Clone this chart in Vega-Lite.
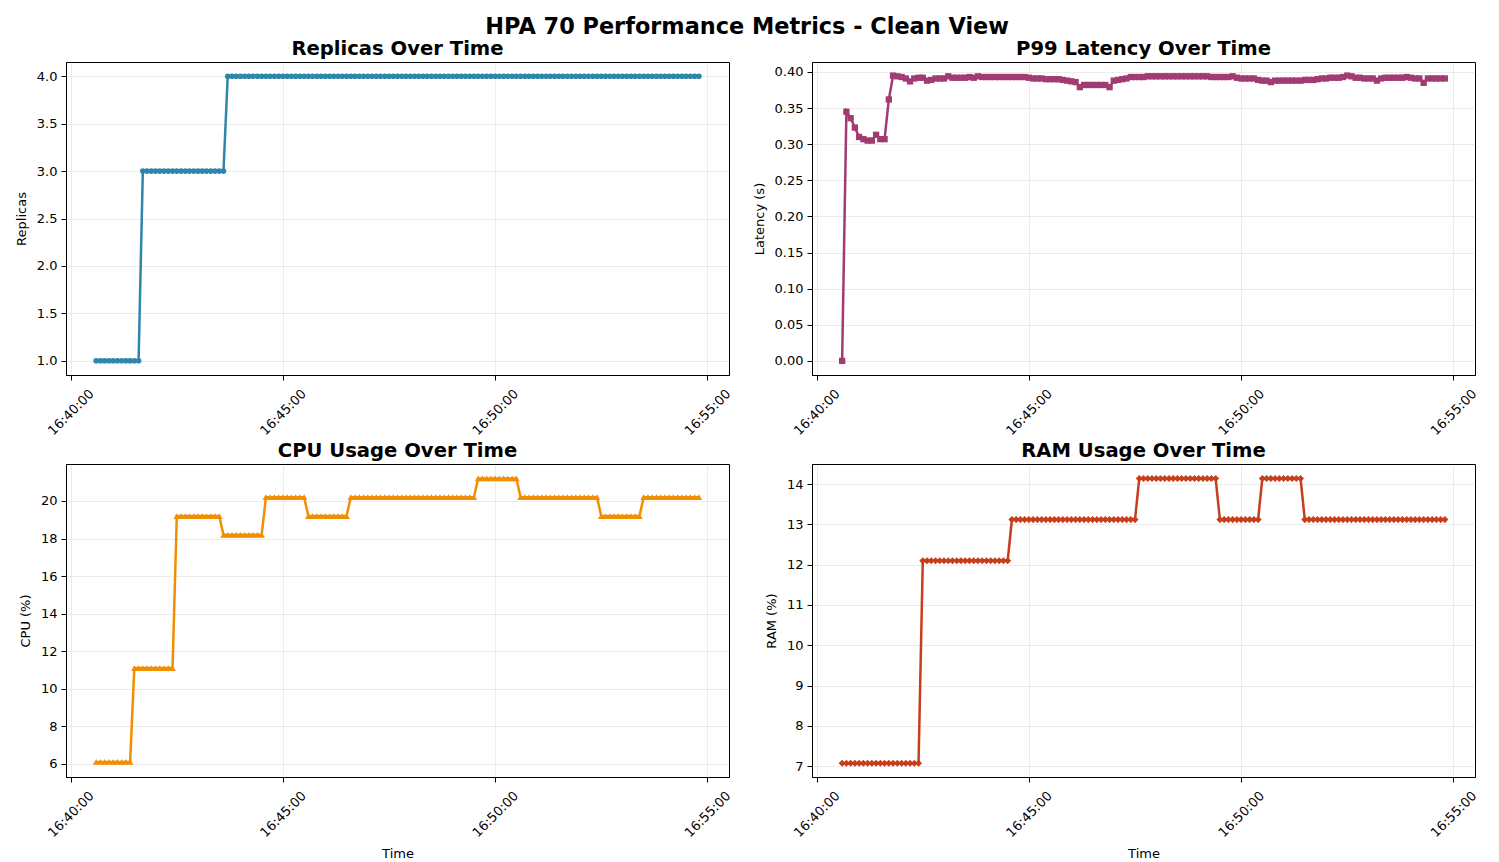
{
"$schema": "https://vega.github.io/schema/vega-lite/v6.json",
"padding": {"left": 14, "top": 15, "right": 20, "bottom": 2},
"title": {"text": "HPA 70 Performance Metrics - Clean View", "fontSize": 22.4, "fontWeight": "bold", "font": "DejaVu Sans", "anchor": "middle", "offset": 1, "color": "black"},
"datasets": {"d": [
{"t":"2024-01-01T16:40:36","r":1,"l":0,"c":6.1,"m":7.07},
{"t":"2024-01-01T16:40:42","r":1,"l":0.345,"c":6.1,"m":7.07},
{"t":"2024-01-01T16:40:48","r":1,"l":0.336,"c":6.1,"m":7.07},
{"t":"2024-01-01T16:40:54","r":1,"l":0.323,"c":6.1,"m":7.07},
{"t":"2024-01-01T16:41:00","r":1,"l":0.310,"c":6.1,"m":7.07},
{"t":"2024-01-01T16:41:06","r":1,"l":0.307,"c":6.1,"m":7.07},
{"t":"2024-01-01T16:41:12","r":1,"l":0.305,"c":6.1,"m":7.07},
{"t":"2024-01-01T16:41:18","r":1,"l":0.305,"c":6.1,"m":7.07},
{"t":"2024-01-01T16:41:24","r":1,"l":0.313,"c":6.1,"m":7.07},
{"t":"2024-01-01T16:41:30","r":1,"l":0.307,"c":11.1,"m":7.07},
{"t":"2024-01-01T16:41:36","r":1,"l":0.307,"c":11.1,"m":7.07},
{"t":"2024-01-01T16:41:42","r":3,"l":0.362,"c":11.1,"m":7.07},
{"t":"2024-01-01T16:41:48","r":3,"l":0.395,"c":11.1,"m":7.07},
{"t":"2024-01-01T16:41:54","r":3,"l":0.394,"c":11.1,"m":7.07},
{"t":"2024-01-01T16:42:00","r":3,"l":0.393,"c":11.1,"m":7.07},
{"t":"2024-01-01T16:42:06","r":3,"l":0.391,"c":11.1,"m":7.07},
{"t":"2024-01-01T16:42:12","r":3,"l":0.387,"c":11.1,"m":7.07},
{"t":"2024-01-01T16:42:18","r":3,"l":0.391,"c":11.1,"m":7.07},
{"t":"2024-01-01T16:42:24","r":3,"l":0.392,"c":11.1,"m":7.07},
{"t":"2024-01-01T16:42:30","r":3,"l":0.392,"c":19.2,"m":12.1},
{"t":"2024-01-01T16:42:36","r":3,"l":0.388,"c":19.2,"m":12.1},
{"t":"2024-01-01T16:42:42","r":3,"l":0.389,"c":19.2,"m":12.1},
{"t":"2024-01-01T16:42:48","r":3,"l":0.391,"c":19.2,"m":12.1},
{"t":"2024-01-01T16:42:54","r":3,"l":0.391,"c":19.2,"m":12.1},
{"t":"2024-01-01T16:43:00","r":3,"l":0.391,"c":19.2,"m":12.1},
{"t":"2024-01-01T16:43:06","r":3,"l":0.394,"c":19.2,"m":12.1},
{"t":"2024-01-01T16:43:12","r":3,"l":0.392,"c":19.2,"m":12.1},
{"t":"2024-01-01T16:43:18","r":3,"l":0.392,"c":19.2,"m":12.1},
{"t":"2024-01-01T16:43:24","r":3,"l":0.392,"c":19.2,"m":12.1},
{"t":"2024-01-01T16:43:30","r":3,"l":0.392,"c":19.2,"m":12.1},
{"t":"2024-01-01T16:43:36","r":3,"l":0.393,"c":18.2,"m":12.1},
{"t":"2024-01-01T16:43:42","r":4,"l":0.392,"c":18.2,"m":12.1},
{"t":"2024-01-01T16:43:48","r":4,"l":0.394,"c":18.2,"m":12.1},
{"t":"2024-01-01T16:43:54","r":4,"l":0.393,"c":18.2,"m":12.1},
{"t":"2024-01-01T16:44:00","r":4,"l":0.393,"c":18.2,"m":12.1},
{"t":"2024-01-01T16:44:06","r":4,"l":0.393,"c":18.2,"m":12.1},
{"t":"2024-01-01T16:44:12","r":4,"l":0.393,"c":18.2,"m":12.1},
{"t":"2024-01-01T16:44:18","r":4,"l":0.393,"c":18.2,"m":12.1},
{"t":"2024-01-01T16:44:24","r":4,"l":0.393,"c":18.2,"m":12.1},
{"t":"2024-01-01T16:44:30","r":4,"l":0.393,"c":18.2,"m":12.1},
{"t":"2024-01-01T16:44:36","r":4,"l":0.393,"c":20.2,"m":13.12},
{"t":"2024-01-01T16:44:42","r":4,"l":0.393,"c":20.2,"m":13.12},
{"t":"2024-01-01T16:44:48","r":4,"l":0.393,"c":20.2,"m":13.12},
{"t":"2024-01-01T16:44:54","r":4,"l":0.393,"c":20.2,"m":13.12},
{"t":"2024-01-01T16:45:00","r":4,"l":0.392,"c":20.2,"m":13.12},
{"t":"2024-01-01T16:45:06","r":4,"l":0.391,"c":20.2,"m":13.12},
{"t":"2024-01-01T16:45:12","r":4,"l":0.391,"c":20.2,"m":13.12},
{"t":"2024-01-01T16:45:18","r":4,"l":0.391,"c":20.2,"m":13.12},
{"t":"2024-01-01T16:45:24","r":4,"l":0.390,"c":20.2,"m":13.12},
{"t":"2024-01-01T16:45:30","r":4,"l":0.390,"c":20.2,"m":13.12},
{"t":"2024-01-01T16:45:36","r":4,"l":0.390,"c":19.2,"m":13.12},
{"t":"2024-01-01T16:45:42","r":4,"l":0.390,"c":19.2,"m":13.12},
{"t":"2024-01-01T16:45:48","r":4,"l":0.389,"c":19.2,"m":13.12},
{"t":"2024-01-01T16:45:54","r":4,"l":0.388,"c":19.2,"m":13.12},
{"t":"2024-01-01T16:46:00","r":4,"l":0.387,"c":19.2,"m":13.12},
{"t":"2024-01-01T16:46:06","r":4,"l":0.386,"c":19.2,"m":13.12},
{"t":"2024-01-01T16:46:12","r":4,"l":0.379,"c":19.2,"m":13.12},
{"t":"2024-01-01T16:46:18","r":4,"l":0.382,"c":19.2,"m":13.12},
{"t":"2024-01-01T16:46:24","r":4,"l":0.382,"c":19.2,"m":13.12},
{"t":"2024-01-01T16:46:30","r":4,"l":0.382,"c":19.2,"m":13.12},
{"t":"2024-01-01T16:46:36","r":4,"l":0.382,"c":20.2,"m":13.12},
{"t":"2024-01-01T16:46:42","r":4,"l":0.382,"c":20.2,"m":13.12},
{"t":"2024-01-01T16:46:48","r":4,"l":0.382,"c":20.2,"m":13.12},
{"t":"2024-01-01T16:46:54","r":4,"l":0.379,"c":20.2,"m":13.12},
{"t":"2024-01-01T16:47:00","r":4,"l":0.388,"c":20.2,"m":13.12},
{"t":"2024-01-01T16:47:06","r":4,"l":0.389,"c":20.2,"m":13.12},
{"t":"2024-01-01T16:47:12","r":4,"l":0.390,"c":20.2,"m":13.12},
{"t":"2024-01-01T16:47:18","r":4,"l":0.391,"c":20.2,"m":13.12},
{"t":"2024-01-01T16:47:24","r":4,"l":0.393,"c":20.2,"m":13.12},
{"t":"2024-01-01T16:47:30","r":4,"l":0.393,"c":20.2,"m":13.12},
{"t":"2024-01-01T16:47:36","r":4,"l":0.393,"c":20.2,"m":14.14},
{"t":"2024-01-01T16:47:42","r":4,"l":0.393,"c":20.2,"m":14.14},
{"t":"2024-01-01T16:47:48","r":4,"l":0.394,"c":20.2,"m":14.14},
{"t":"2024-01-01T16:47:54","r":4,"l":0.394,"c":20.2,"m":14.14},
{"t":"2024-01-01T16:48:00","r":4,"l":0.394,"c":20.2,"m":14.14},
{"t":"2024-01-01T16:48:06","r":4,"l":0.394,"c":20.2,"m":14.14},
{"t":"2024-01-01T16:48:12","r":4,"l":0.394,"c":20.2,"m":14.14},
{"t":"2024-01-01T16:48:18","r":4,"l":0.394,"c":20.2,"m":14.14},
{"t":"2024-01-01T16:48:24","r":4,"l":0.394,"c":20.2,"m":14.14},
{"t":"2024-01-01T16:48:30","r":4,"l":0.394,"c":20.2,"m":14.14},
{"t":"2024-01-01T16:48:36","r":4,"l":0.394,"c":20.2,"m":14.14},
{"t":"2024-01-01T16:48:42","r":4,"l":0.394,"c":20.2,"m":14.14},
{"t":"2024-01-01T16:48:48","r":4,"l":0.394,"c":20.2,"m":14.14},
{"t":"2024-01-01T16:48:54","r":4,"l":0.394,"c":20.2,"m":14.14},
{"t":"2024-01-01T16:49:00","r":4,"l":0.394,"c":20.2,"m":14.14},
{"t":"2024-01-01T16:49:06","r":4,"l":0.394,"c":20.2,"m":14.14},
{"t":"2024-01-01T16:49:12","r":4,"l":0.394,"c":20.2,"m":14.14},
{"t":"2024-01-01T16:49:18","r":4,"l":0.393,"c":20.2,"m":14.14},
{"t":"2024-01-01T16:49:24","r":4,"l":0.393,"c":20.2,"m":14.14},
{"t":"2024-01-01T16:49:30","r":4,"l":0.393,"c":20.2,"m":13.12},
{"t":"2024-01-01T16:49:36","r":4,"l":0.393,"c":21.2,"m":13.12},
{"t":"2024-01-01T16:49:42","r":4,"l":0.393,"c":21.2,"m":13.12},
{"t":"2024-01-01T16:49:48","r":4,"l":0.394,"c":21.2,"m":13.12},
{"t":"2024-01-01T16:49:54","r":4,"l":0.392,"c":21.2,"m":13.12},
{"t":"2024-01-01T16:50:00","r":4,"l":0.391,"c":21.2,"m":13.12},
{"t":"2024-01-01T16:50:06","r":4,"l":0.391,"c":21.2,"m":13.12},
{"t":"2024-01-01T16:50:12","r":4,"l":0.391,"c":21.2,"m":13.12},
{"t":"2024-01-01T16:50:18","r":4,"l":0.391,"c":21.2,"m":13.12},
{"t":"2024-01-01T16:50:24","r":4,"l":0.389,"c":21.2,"m":13.12},
{"t":"2024-01-01T16:50:30","r":4,"l":0.388,"c":21.2,"m":14.14},
{"t":"2024-01-01T16:50:36","r":4,"l":0.388,"c":20.2,"m":14.14},
{"t":"2024-01-01T16:50:42","r":4,"l":0.386,"c":20.2,"m":14.14},
{"t":"2024-01-01T16:50:48","r":4,"l":0.388,"c":20.2,"m":14.14},
{"t":"2024-01-01T16:50:54","r":4,"l":0.388,"c":20.2,"m":14.14},
{"t":"2024-01-01T16:51:00","r":4,"l":0.388,"c":20.2,"m":14.14},
{"t":"2024-01-01T16:51:06","r":4,"l":0.388,"c":20.2,"m":14.14},
{"t":"2024-01-01T16:51:12","r":4,"l":0.388,"c":20.2,"m":14.14},
{"t":"2024-01-01T16:51:18","r":4,"l":0.388,"c":20.2,"m":14.14},
{"t":"2024-01-01T16:51:24","r":4,"l":0.388,"c":20.2,"m":14.14},
{"t":"2024-01-01T16:51:30","r":4,"l":0.389,"c":20.2,"m":13.12},
{"t":"2024-01-01T16:51:36","r":4,"l":0.389,"c":20.2,"m":13.12},
{"t":"2024-01-01T16:51:42","r":4,"l":0.389,"c":20.2,"m":13.12},
{"t":"2024-01-01T16:51:48","r":4,"l":0.390,"c":20.2,"m":13.12},
{"t":"2024-01-01T16:51:54","r":4,"l":0.391,"c":20.2,"m":13.12},
{"t":"2024-01-01T16:52:00","r":4,"l":0.391,"c":20.2,"m":13.12},
{"t":"2024-01-01T16:52:06","r":4,"l":0.392,"c":20.2,"m":13.12},
{"t":"2024-01-01T16:52:12","r":4,"l":0.392,"c":20.2,"m":13.12},
{"t":"2024-01-01T16:52:18","r":4,"l":0.392,"c":20.2,"m":13.12},
{"t":"2024-01-01T16:52:24","r":4,"l":0.393,"c":20.2,"m":13.12},
{"t":"2024-01-01T16:52:30","r":4,"l":0.395,"c":19.2,"m":13.12},
{"t":"2024-01-01T16:52:36","r":4,"l":0.394,"c":19.2,"m":13.12},
{"t":"2024-01-01T16:52:42","r":4,"l":0.392,"c":19.2,"m":13.12},
{"t":"2024-01-01T16:52:48","r":4,"l":0.392,"c":19.2,"m":13.12},
{"t":"2024-01-01T16:52:54","r":4,"l":0.391,"c":19.2,"m":13.12},
{"t":"2024-01-01T16:53:00","r":4,"l":0.391,"c":19.2,"m":13.12},
{"t":"2024-01-01T16:53:06","r":4,"l":0.391,"c":19.2,"m":13.12},
{"t":"2024-01-01T16:53:12","r":4,"l":0.388,"c":19.2,"m":13.12},
{"t":"2024-01-01T16:53:18","r":4,"l":0.391,"c":19.2,"m":13.12},
{"t":"2024-01-01T16:53:24","r":4,"l":0.392,"c":19.2,"m":13.12},
{"t":"2024-01-01T16:53:30","r":4,"l":0.392,"c":20.2,"m":13.12},
{"t":"2024-01-01T16:53:36","r":4,"l":0.392,"c":20.2,"m":13.12},
{"t":"2024-01-01T16:53:42","r":4,"l":0.392,"c":20.2,"m":13.12},
{"t":"2024-01-01T16:53:48","r":4,"l":0.392,"c":20.2,"m":13.12},
{"t":"2024-01-01T16:53:54","r":4,"l":0.393,"c":20.2,"m":13.12},
{"t":"2024-01-01T16:54:00","r":4,"l":0.392,"c":20.2,"m":13.12},
{"t":"2024-01-01T16:54:06","r":4,"l":0.391,"c":20.2,"m":13.12},
{"t":"2024-01-01T16:54:12","r":4,"l":0.391,"c":20.2,"m":13.12},
{"t":"2024-01-01T16:54:18","r":4,"l":0.385,"c":20.2,"m":13.12},
{"t":"2024-01-01T16:54:24","r":4,"l":0.391,"c":20.2,"m":13.12},
{"t":"2024-01-01T16:54:30","r":4,"l":0.391,"c":20.2,"m":13.12},
{"t":"2024-01-01T16:54:36","r":4,"l":0.391,"c":20.2,"m":13.12},
{"t":"2024-01-01T16:54:42","r":4,"l":0.391,"c":20.2,"m":13.12},
{"t":"2024-01-01T16:54:48","r":4,"l":0.391,"c":20.2,"m":13.12}
]},
"data": {"name": "d"},
"columns": 2,
"spacing": {"row": 1, "column": 18},
"concat": [
{
 "title": "Replicas Over Time",
 "width": 663, "height": 313,
 "encoding": {
  "x": {"field": "t", "type": "temporal", "scale": {"domain": ["2024-01-01T16:39:53.4", "2024-01-01T16:55:30.6"]}, "axis": {"title": null, "format": "%H:%M:%S", "values": ["2024-01-01T16:40:00", "2024-01-01T16:45:00", "2024-01-01T16:50:00", "2024-01-01T16:55:00"]}},
  "y": {"field": "r", "type": "quantitative", "scale": {"domain": [0.85, 4.15], "nice": false, "zero": false}, "axis": {"title": "Replicas", "values": [1, 1.5, 2, 2.5, 3, 3.5, 4], "format": ".1f"}}
 },
 "layer": [
  {"mark": {"type": "line", "color": "#2E86AB", "strokeWidth": 2.5}},
  {"mark": {"type": "point", "filled": true, "shape": "circle", "size": 32, "color": "#2E86AB", "opacity": 1}}
 ]
},
{
 "title": "P99 Latency Over Time",
 "width": 663, "height": 313,
 "encoding": {
  "x": {"field": "t", "type": "temporal", "scale": {"domain": ["2024-01-01T16:39:53.4", "2024-01-01T16:55:30.6"]}, "axis": {"title": null, "format": "%H:%M:%S", "values": ["2024-01-01T16:40:00", "2024-01-01T16:45:00", "2024-01-01T16:50:00", "2024-01-01T16:55:00"]}},
  "y": {"field": "l", "type": "quantitative", "scale": {"domain": [-0.0195, 0.4138], "nice": false, "zero": false}, "axis": {"title": "Latency (s)", "values": [0, 0.05, 0.1, 0.15, 0.2, 0.25, 0.3, 0.35, 0.4], "format": ".2f"}}
 },
 "layer": [
  {"mark": {"type": "line", "color": "#A23B72", "strokeWidth": 2.5}},
  {"mark": {"type": "point", "filled": true, "shape": "square", "size": 40, "color": "#A23B72", "opacity": 1}}
 ]
},
{
 "title": "CPU Usage Over Time",
 "width": 663, "height": 313,
 "encoding": {
  "x": {"field": "t", "type": "temporal", "scale": {"domain": ["2024-01-01T16:39:53.4", "2024-01-01T16:55:30.6"]}, "axis": {"title": "Time", "format": "%H:%M:%S", "values": ["2024-01-01T16:40:00", "2024-01-01T16:45:00", "2024-01-01T16:50:00", "2024-01-01T16:55:00"]}},
  "y": {"field": "c", "type": "quantitative", "scale": {"domain": [5.3, 21.97], "nice": false, "zero": false}, "axis": {"title": "CPU (%)", "values": [6, 8, 10, 12, 14, 16, 18, 20], "format": "d"}}
 },
 "layer": [
  {"mark": {"type": "line", "color": "#F18F01", "strokeWidth": 2.5}},
  {"mark": {"type": "point", "filled": true, "shape": "triangle-up", "size": 44, "color": "#F18F01", "opacity": 1}}
 ]
},
{
 "title": "RAM Usage Over Time",
 "width": 663, "height": 313,
 "encoding": {
  "x": {"field": "t", "type": "temporal", "scale": {"domain": ["2024-01-01T16:39:53.4", "2024-01-01T16:55:30.6"]}, "axis": {"title": "Time", "format": "%H:%M:%S", "values": ["2024-01-01T16:40:00", "2024-01-01T16:45:00", "2024-01-01T16:50:00", "2024-01-01T16:55:00"]}},
  "y": {"field": "m", "type": "quantitative", "scale": {"domain": [6.73, 14.5], "nice": false, "zero": false}, "axis": {"title": "RAM (%)", "values": [7, 8, 9, 10, 11, 12, 13, 14], "format": "d"}}
 },
 "layer": [
  {"mark": {"type": "line", "color": "#C73E1D", "strokeWidth": 2.5}},
  {"mark": {"type": "point", "filled": true, "shape": "diamond", "size": 50, "color": "#C73E1D", "opacity": 1}}
 ]
}
],
"config": {
 "font": "DejaVu Sans",
 "view": {"stroke": "black", "strokeWidth": 1},
 "axis": {"domainColor": "black", "tickColor": "black", "tickSize": 5, "labelColor": "black", "labelFontSize": 13, "titleFontSize": 13, "titleFontWeight": "normal", "titleColor": "black", "gridColor": "#b0b0b0", "gridOpacity": 0.3, "gridWidth": 0.8, "labelPadding": 4, "titlePadding": 8},
 "axisX": {"labelAngle": -45, "labelAlign": "center", "labelBaseline": "middle", "labelPadding": 32, "titlePadding": 8, "labelFlush": false},
 "title": {"fontSize": 19.6, "fontWeight": "bold", "color": "black", "offset": 2, "anchor": "middle"}
}
}
